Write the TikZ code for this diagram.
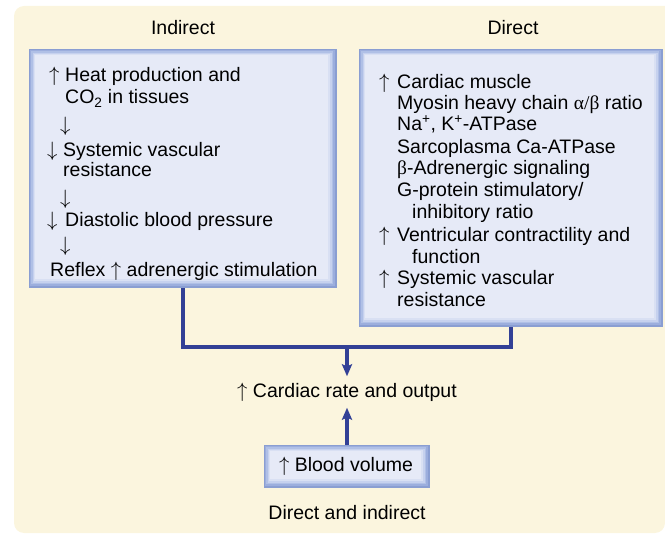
\documentclass[tikz,border=0pt]{standalone}
\usepackage{fontspec}
\setmainfont{Liberation Sans}
\newfontfamily\grk{Liberation Serif}
\usetikzlibrary{arrows.meta}
\definecolor{cream}{RGB}{251,245,222}
\definecolor{bxa}{RGB}{138,158,210}
\definecolor{bxb}{RGB}{156,174,221}
\definecolor{bxc}{RGB}{176,192,230}
\definecolor{bxd}{RGB}{198,209,238}
\definecolor{bxe}{RGB}{217,224,243}
\definecolor{bxin}{RGB}{230,234,247}
\definecolor{conn}{RGB}{50,64,150}
\newcommand{\upar}{{\fontsize{21}{22}\selectfont$\uparrow$}}
\newcommand{\dnar}{{\fontsize{21}{22}\selectfont$\downarrow$}}
\begin{document}
\begin{tikzpicture}[x=1pt,y=-1pt,
  font=\fontsize{19.5}{22}\selectfont,
  bluebox/.style={inner sep=0, fill=bxa, path picture={
     \foreach \i/\c in {1.5/bxb,3/bxc,4.5/bxd,6/bxe,7.5/bxin}{
       \fill[\c] ([shift={(0.8*\i pt,-0.8*\i pt)}]path picture bounding box.north west)
         rectangle ([shift={(-1.2*\i pt,1.2*\i pt)}]path picture bounding box.south east);}
  }},
  txt/.style={anchor=base west, inner sep=0},
  conn/.style={draw=conn, line width=4pt, line join=miter},
  ar/.style={-{Stealth[length=12pt,width=10pt,inset=2pt]}}]
\useasboundingbox (0,0) rectangle (665,540);
\fill[cream,rounded corners=10pt] (665,6) -- (14,6) -- (14,533) -- (665,533) [sharp corners] -- cycle;

% boxes
\node[bluebox, minimum width=308pt, minimum height=239pt] (lbox) at (183,168.5) {};
\node[bluebox, minimum width=304pt, minimum height=278pt] (rbox) at (511,188) {};

% titles
\node (tind) at (183,28) {Indirect};
\node (tdir) at (513,28) {Direct};

% left box text
\node[txt] (l1) at (49,82) {\makebox[16pt][l]{\upar}Heat production and};
\node[txt] (l2) at (65,104) {CO\textsubscript{2} in tissues};
\node[txt] (la1) at (60,131.5) {\dnar};
\node[txt] (l3) at (47,157) {\makebox[16pt][l]{\dnar}Systemic vascular};
\node[txt] (l4) at (63,177) {resistance};
\node[txt] (la2) at (60,204.5) {\dnar};
\node[txt] (l5) at (47,227) {\makebox[18pt][l]{\dnar}Diastolic blood pressure};
\node[txt] (la3) at (60,251.5) {\dnar};
\node[txt] (l6) at (50,277) {Reflex \upar{} adrenergic stimulation};

% right box text
\node[txt] (r1) at (379,89) {\makebox[18pt][l]{\upar}Cardiac muscle};
\node[txt] (r2) at (397,110) {Myosin heavy chain {\grk α/β} ratio};
\node[txt] (r3) at (397,131) {Na\textsuperscript{+}, K\textsuperscript{+}-ATPase};
\node[txt] (r4) at (397,154) {Sarcoplasma Ca-ATPase};
\node[txt] (r5) at (397,175) {{\grk β}-Adrenergic signaling};
\node[txt] (r6) at (397,197) {G-protein stimulatory/};
\node[txt] (r7) at (412,219) {inhibitory ratio};
\node[txt] (r8) at (379,242) {\makebox[18pt][l]{\upar}Ventricular contractility and};
\node[txt] (r9) at (412,264) {function};
\node[txt] (r10) at (379,285) {\makebox[18pt][l]{\upar}Systemic vascular};
\node[txt] (r11) at (397,307) {resistance};

% bottom
\coordinate (j) at (347,347);
\node[inner sep=0, minimum height=31pt] (out) at (347,392) {\upar{} Cardiac rate and output};
\node[bluebox, minimum width=166pt, minimum height=43pt] (blood) at (347,466.5) {};
\node (bloodtxt) at (346,466.5) {\upar{} Blood volume};
\node (both) at (347,513) {Direct and indirect};

% connectors
\draw[conn] (lbox.south) -- (lbox.south |- j) -| (rbox.south);
\draw[conn, ar] (j) -- (out.north);
\draw[conn, ar] (blood.north) -- (out.south);
\end{tikzpicture}
\end{document}
